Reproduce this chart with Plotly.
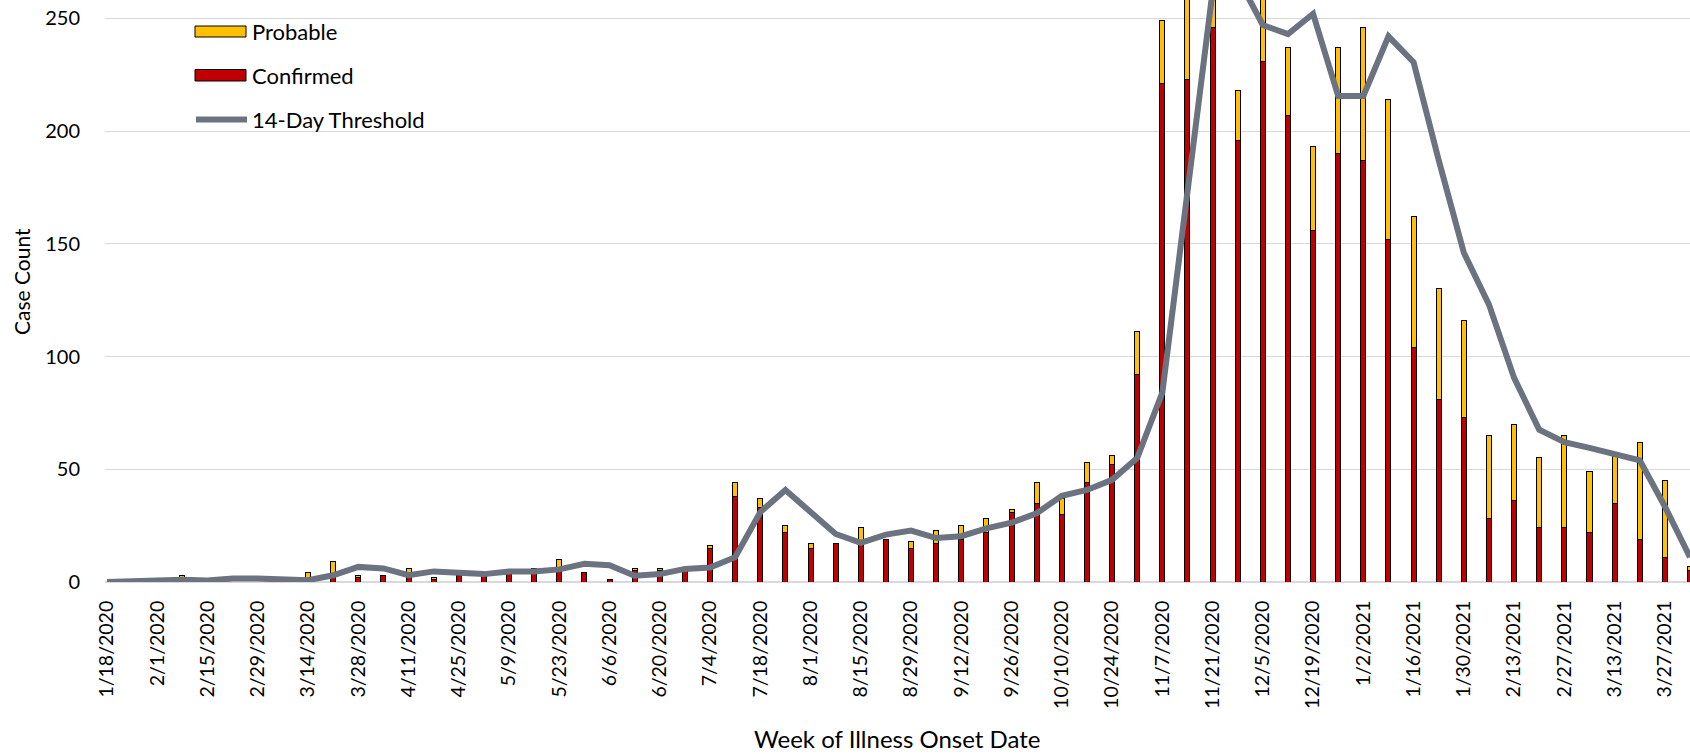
import plotly.graph_objects as go

week_labels = [
    "1/18/2020", "1/25/2020", "2/1/2020", "2/8/2020", "2/15/2020", "2/22/2020",
    "2/29/2020", "3/7/2020", "3/14/2020", "3/21/2020", "3/28/2020", "4/4/2020",
    "4/11/2020", "4/18/2020", "4/25/2020", "5/2/2020", "5/9/2020", "5/16/2020",
    "5/23/2020", "5/30/2020", "6/6/2020", "6/13/2020", "6/20/2020", "6/27/2020",
    "7/4/2020", "7/11/2020", "7/18/2020", "7/25/2020", "8/1/2020", "8/8/2020",
    "8/15/2020", "8/22/2020", "8/29/2020", "9/5/2020", "9/12/2020", "9/19/2020",
    "9/26/2020", "10/3/2020", "10/10/2020", "10/17/2020", "10/24/2020", "10/31/2020",
    "11/7/2020", "11/14/2020", "11/21/2020", "11/28/2020", "12/5/2020", "12/12/2020",
    "12/19/2020", "12/26/2020", "1/2/2021", "1/9/2021", "1/16/2021", "1/23/2021",
    "1/30/2021", "2/6/2021", "2/13/2021", "2/20/2021", "2/27/2021", "3/6/2021",
    "3/13/2021", "3/20/2021", "3/27/2021", "4/3/2021",
]

confirmed = [
    0, 0, 0, 2, 0, 0, 0, 0, 1, 2, 2, 3, 3, 1, 3, 3, 4, 5, 6, 4, 1, 5, 5, 6,
    15, 38, 33, 22, 15, 17, 18, 19, 15, 17, 19, 22, 31, 35, 30, 44, 52, 92,
    221, 223, 246, 196, 231, 207, 156, 190, 187, 152, 104, 81, 73, 28, 36, 24,
    24, 22, 35, 19, 11, 5,
]

probable = [
    0, 0, 0, 1, 0, 0, 0, 0, 3, 7, 1, 0, 3, 1, 0, 0, 1, 1, 4, 0, 0, 1, 1, 0,
    1, 6, 4, 3, 2, 0, 6, 0, 3, 6, 6, 6, 1, 9, 7, 9, 4, 19,
    28, 49, 22, 22, 31, 30, 37, 47, 59, 62, 58, 49, 43, 37, 34, 31,
    41, 27, 22, 43, 34, 2,
]

threshold = [
    0, 0.5, 1, 1, 0.7, 1.5, 1.5, 1.2, 0.8, 3, 6.7, 6, 3, 4.7, 4.1, 3.5, 4.7, 4.7,
    5.6, 8.1, 7.4, 2.8, 3.5, 5.8, 6.4, 11, 31, 40.8, 31, 21.3, 17.4, 21, 22.8,
    19.5, 20.3, 23.8, 26.3, 30.5, 38.2, 40.8, 45.3, 55, 84, 174, 262, 268, 247,
    243, 252, 215.5, 215.5, 242, 230.5, 187, 146, 123, 90.5, 67.5, 62, 59.5, 57,
    54, 33.5, 11,
]

y_ticks = [0, 50, 100, 150, 200, 250]

# ---- layout constants (pixels) ----
W, H = 1690, 754
ML, MR, MT, MB = 105, 0, 0, 172
PW, PH = W - ML - MR, H - MT - MB
FONT = "Lato"


def px_x(p):
    return (p - ML) / PW


def px_y(p):
    return (H - MB - p) / PH


fig = go.Figure()
fig.add_trace(go.Bar(
    x=week_labels, y=confirmed, name="Confirmed", width=0.2,
    marker=dict(color="#C00000", line=dict(color="#000000", width=1)),
))
fig.add_trace(go.Bar(
    x=week_labels, y=probable, name="Probable", width=0.2,
    marker=dict(color="#FFC000", line=dict(color="#000000", width=1)),
))
fig.add_trace(go.Scatter(
    x=week_labels, y=threshold, name="14-Day Threshold", mode="lines",
    line=dict(color="#6B7280", width=6),
))

shapes = [
    dict(type="rect", xref="paper", yref="paper",
         x0=px_x(195), x1=px_x(246), y0=px_y(26), y1=px_y(37),
         fillcolor="#FFC000", line=dict(color="#000000", width=1)),
    dict(type="rect", xref="paper", yref="paper",
         x0=px_x(195), x1=px_x(246), y0=px_y(69.5), y1=px_y(81),
         fillcolor="#C00000", line=dict(color="#000000", width=1)),
    dict(type="line", xref="paper", yref="paper",
         x0=px_x(196), x1=px_x(247), y0=px_y(119.5), y1=px_y(119.5),
         line=dict(color="#6B7280", width=6)),
]

legend_items = [("Probable", 31.5), ("Confirmed", 75.5), ("14-Day Threshold", 119.5)]
annotations = [
    dict(text=t, xref="paper", yref="paper", x=px_x(250), y=px_y(yy),
         xanchor="left", yanchor="middle", showarrow=False,
         font=dict(family=FONT, size=22, color="#000000"))
    for t, yy in legend_items
]
annotations.append(dict(
    text="Case Count", xref="paper", yref="paper", x=px_x(21), y=px_y(282),
    xanchor="center", yanchor="middle", textangle=-90, showarrow=False,
    font=dict(family=FONT, size=21, color="#000000")))
annotations.append(dict(
    text="Week of Illness Onset Date", xref="paper", yref="paper", x=0.5,
    y=px_y(738), xanchor="center", yanchor="middle", showarrow=False,
    font=dict(family=FONT, size=24, color="#000000")))

fig.update_layout(
    width=W, height=H,
    margin=dict(l=ML, r=MR, t=MT, b=MB, autoexpand=False),
    barmode="stack",
    showlegend=False,
    plot_bgcolor="white", paper_bgcolor="white",
    font=dict(family=FONT, color="#000000"),
    shapes=shapes,
    annotations=annotations,
    xaxis=dict(
        type="category", range=[-0.08, 63.0],
        tickvals=week_labels[::2], ticktext=week_labels[::2],
        tickangle=-90, tickfont=dict(family=FONT, size=19.5, color="#000000"),
        showgrid=False, zeroline=False, showline=False,
        ticks="outside", ticklen=10, tickcolor="rgba(0,0,0,0)",
    ),
    yaxis=dict(
        range=[0, 258.1], tickvals=y_ticks,
        tickfont=dict(family=FONT, size=20, color="#000000"),
        showgrid=True, gridcolor="#D9D9D9", gridwidth=1.3,
        zeroline=True, zerolinecolor="#D9D9D9", zerolinewidth=1.5,
        showline=False,
        ticks="outside", ticklen=20, tickcolor="rgba(0,0,0,0)",
    ),
)

fig.write_html(
    "out.html",
    config={"displayModeBar": False},
    post_script=(
        "document.body.style.margin='0';"
        "document.body.style.overflow='hidden';"
        "document.documentElement.style.overflow='hidden';"
    ),
)
